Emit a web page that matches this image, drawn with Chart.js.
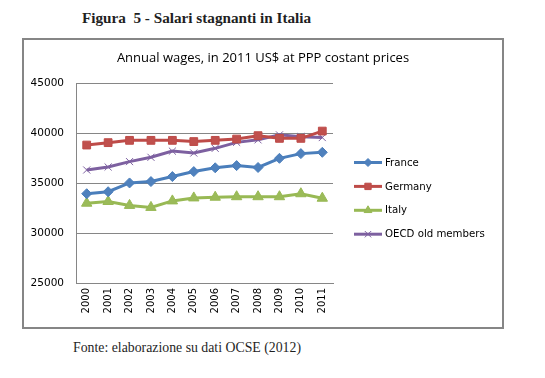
<!DOCTYPE html>
<html>
<head>
<meta charset="utf-8">
<script src="https://cdn.jsdelivr.net/npm/chart.js@4/dist/chart.umd.min.js"></script>
<style>
  html, body { margin: 0; padding: 0; background: #fff; }
  body { width: 545px; height: 378px; position: relative; overflow: hidden; }
  #heading { position: absolute; left: 82px; top: 9px; font: bold 15.2px "Liberation Serif", "Times New Roman", serif; line-height: 17px; color: #1f1f1f; white-space: pre; }
  #frame { position: absolute; left: 22px; top: 38px; width: 478px; height: 287px; border: 2px solid #868686; }
  #frame canvas { display: block; }
  #source { position: absolute; left: 73px; top: 340px; font: 13.8px "Liberation Serif", "Times New Roman", serif; line-height: 16px; color: #1f1f1f; white-space: pre; }
</style>
</head>
<body>
<div id="heading">Figura  5 - Salari stagnanti in Italia</div>
<div id="frame"><canvas id="c" width="478" height="287"></canvas></div>
<div id="source">Fonte: elaborazione su dati OCSE (2012)</div>
<script>
const years = ["2000","2001","2002","2003","2004","2005","2006","2007","2008","2009","2010","2011"];
const france  = [33950, 34150, 35030, 35170, 35670, 36170, 36550, 36770, 36580, 37500, 37970, 38100];
const germany = [38830, 39070, 39300, 39300, 39300, 39180, 39300, 39430, 39770, 39500, 39500, 40230];
const italy   = [33000, 33170, 32780, 32580, 33230, 33530, 33600, 33650, 33650, 33650, 33950, 33500];
const oecd    = [36330, 36630, 37170, 37600, 38220, 38030, 38500, 39100, 39350, 39850, 39670, 39580];
const seriesNames = ["France", "Germany", "Italy", "OECD old members"];
const chartTitle = "Annual wages, in 2011 US$ at PPP costant prices";
const yMin = 25000, yMax = 45000, yStep = 5000;

const titlePlugin = {
  id: 'centeredTitle',
  afterDraw(chart) {
    const ctx = chart.ctx;
    ctx.save();
    ctx.fillStyle = '#000';
    ctx.font = '13px "Open Sans"';
    ctx.textAlign = 'center';
    ctx.textBaseline = 'middle';
    ctx.fillText(chartTitle, chart.width / 2, 18);
    ctx.restore();
  }
};

const legendPlugin = {
  id: 'sideLegend',
  afterDraw(chart) {
    const ctx = chart.ctx;
    const x0 = 330, x1 = 358, tx = 361, y0 = 122.5, dy = 23.9;
    chart.data.datasets.forEach((ds, i) => {
      const y = y0 + i * dy;
      ctx.save();
      ctx.strokeStyle = ds.borderColor;
      ctx.lineWidth = 3;
      ctx.beginPath(); ctx.moveTo(x0, y); ctx.lineTo(x1, y); ctx.stroke();
      const opts = {
        pointStyle: ds.pointStyle, rotation: 0,
        radius: ds.legendRadius, borderWidth: ds.pointBorderWidth
      };
      ctx.fillStyle = ds.pointBackgroundColor;
      ctx.strokeStyle = ds.pointBorderColor;
      ctx.lineWidth = ds.pointBorderWidth;
      Chart.helpers.drawPoint(ctx, opts, (x0 + x1) / 2, y);
      ctx.restore();
      ctx.save();
      ctx.fillStyle = '#000';
      ctx.font = '10.2px "DejaVu Sans"';
      ctx.textBaseline = 'middle';
      ctx.textAlign = 'left';
      ctx.fillText(seriesNames[i], tx, y + 0.5);
      ctx.restore();
    });
  }
};

new Chart(document.getElementById('c'), {
  type: 'line',
  data: {
    labels: years,
    datasets: [
      { label: seriesNames[0], data: france, borderColor: '#4A7EBB', backgroundColor: '#4F81BD',
        pointBackgroundColor: '#4F81BD', pointBorderColor: '#4A7EBB', pointBorderWidth: 1,
        pointStyle: 'rectRot', pointRadius: 5, legendRadius: 4, borderWidth: 3 },
      { label: seriesNames[1], data: germany, borderColor: '#BE4B48', backgroundColor: '#C0504D',
        pointBackgroundColor: '#C0504D', pointBorderColor: '#BE4B48', pointBorderWidth: 1,
        pointStyle: 'rect', pointRadius: 5.5, legendRadius: 4.5, borderWidth: 3 },
      { label: seriesNames[2], data: italy, borderColor: '#98B954', backgroundColor: '#9BBB59',
        pointBackgroundColor: '#9BBB59', pointBorderColor: '#98B954', pointBorderWidth: 1,
        pointStyle: 'triangle', pointRadius: 6, legendRadius: 4.5, borderWidth: 3 },
      { label: seriesNames[3], data: oecd, borderColor: '#7D60A0', backgroundColor: '#8064A2',
        pointBackgroundColor: '#8064A2', pointBorderColor: '#7D60A0', pointBorderWidth: 1,
        pointStyle: 'crossRot', pointRadius: 5, legendRadius: 4.5, borderWidth: 3 }
    ]
  },
  options: {
    responsive: false,
    animation: false,
    devicePixelRatio: 1,
    layout: { padding: { top: 43.5, left: 0, right: 169, bottom: 0 } },
    elements: { line: { tension: 0 } },
    plugins: {
      legend: { display: false },
      tooltip: { enabled: false },
      title: { display: false }
    },
    scales: {
      x: {
        offset: true,
        grid: { display: false, drawTicks: false },
        border: { display: true, color: '#868686', width: 1 },
        ticks: { color: '#000', font: { family: '"DejaVu Sans"', size: 10 }, minRotation: 90, maxRotation: 90, padding: 5, autoSkip: false },
        afterFit(s) { s.height = 44; }
      },
      y: {
        min: yMin, max: yMax,
        grid: { color: '#868686', lineWidth: 1, drawTicks: false },
        border: { display: true, color: '#868686', width: 1 },
        ticks: { stepSize: yStep, color: '#000', font: { family: '"DejaVu Sans"', size: 10.5 }, padding: 12,
                 callback: (v) => String(v) },
        afterFit(s) { s.width = 52; }
      }
    }
  },
  plugins: [titlePlugin, legendPlugin]
});
</script>
</body>
</html>
